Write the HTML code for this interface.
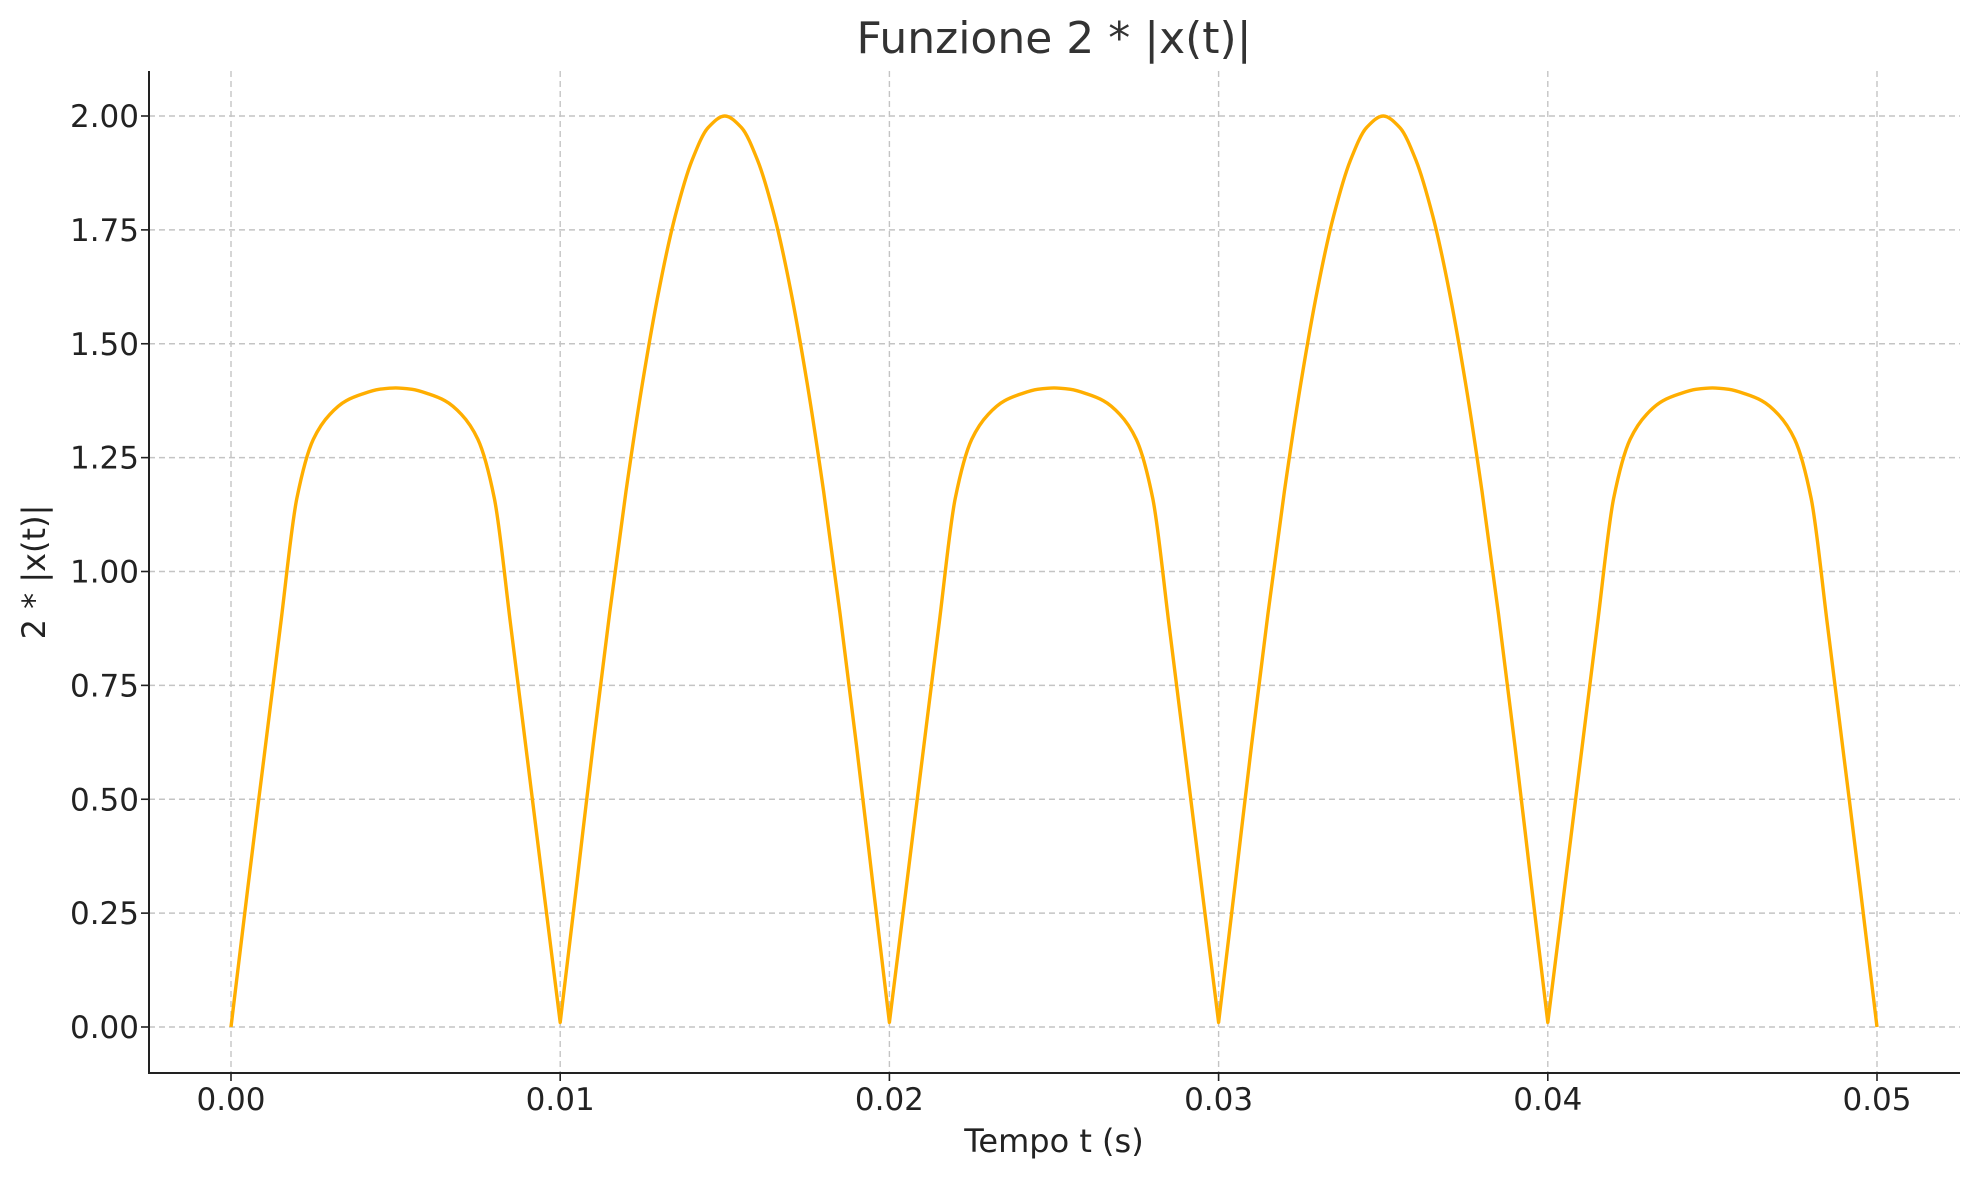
<!DOCTYPE html>
<html><head><meta charset="utf-8"><style>
html,body{margin:0;padding:0;background:#fff;}
svg text{font-family:"DejaVu Sans","Liberation Sans",sans-serif;fill:#222;}
</style></head><body>
<svg id="chart" width="1979" height="1180" viewBox="0 0 1979 1180" xmlns="http://www.w3.org/2000/svg">
<rect width="1979" height="1180" fill="#fff"/>
<g id="grid"></g>
<g id="series"></g>
<g id="axes"></g>
<text x="1054" y="53" font-size="44" text-anchor="middle" style="fill:#333">Funzione 2 * |x(t)|</text>
<text x="1054" y="1152" font-size="32" text-anchor="middle">Tempo t (s)</text>
<text x="0" y="0" font-size="32" text-anchor="middle" transform="translate(45,572) rotate(-90)">2 * |x(t)|</text>
</svg>
<script>
const xTicks=[0,0.01,0.02,0.03,0.04,0.05];
const xTickLabels=["0.00","0.01","0.02","0.03","0.04","0.05"];
const yTicks=[0,0.25,0.5,0.75,1,1.25,1.5,1.75,2];
const yTickLabels=["0.00","0.25","0.50","0.75","1.00","1.25","1.50","1.75","2.00"];
const tStep=0.0005;
const values=[
0,0.30,0.59,0.88,1.16,1.29,1.345,1.375,1.39,1.40,1.403,1.40,1.39,1.375,1.345,1.29,1.16,0.88,0.59,0.30,0.01,
0.313,0.618,0.908,1.176,1.414,1.618,1.782,1.902,1.975,2.0,1.975,1.902,1.782,1.618,1.414,1.176,0.908,0.618,0.313,0.01,
0.30,0.59,0.88,1.16,1.29,1.345,1.375,1.39,1.40,1.403,1.40,1.39,1.375,1.345,1.29,1.16,0.88,0.59,0.30,0.01,
0.313,0.618,0.908,1.176,1.414,1.618,1.782,1.902,1.975,2.0,1.975,1.902,1.782,1.618,1.414,1.176,0.908,0.618,0.313,0.01,
0.30,0.59,0.88,1.16,1.29,1.345,1.375,1.39,1.40,1.403,1.40,1.39,1.375,1.345,1.29,1.16,0.88,0.59,0.30,0
];
const NS="http://www.w3.org/2000/svg";
const L=149,R=1960,T=71,B=1073;
function xs(v){return 231+v*(1877-231)/0.05;}
function ys(v){return 1027-v*(1027-116)/2;}
function mk(tag,parent,attrs){const e=document.createElementNS(NS,tag);for(const k in attrs)e.setAttribute(k,attrs[k]);parent.appendChild(e);return e;}
const grid=document.getElementById('grid'),axes=document.getElementById('axes'),series=document.getElementById('series');
xTicks.forEach((v,i)=>{
 const g=mk('line',grid,{x1:xs(v),x2:xs(v),y1:T,y2:B,stroke:'#c4c4c4','stroke-width':1.4,'stroke-dasharray':'6,4'});
 
 
 const t=mk('line',axes,{x1:xs(v),x2:xs(v),y1:B,y2:B+8,stroke:'#222','stroke-width':1.6});
 
 
 const l=mk('text',axes,{x:xs(v),y:1110,'font-size':31,'text-anchor':'middle'});
 l.textContent=xTickLabels[i];
 
 
});
yTicks.forEach((v,i)=>{
 const g=mk('line',grid,{x1:L,x2:R,y1:ys(v),y2:ys(v),stroke:'#c4c4c4','stroke-width':1.4,'stroke-dasharray':'6,4'});
 
 
 const t=mk('line',axes,{x1:L-8,x2:L,y1:ys(v),y2:ys(v),stroke:'#222','stroke-width':1.6});
 
 
 const l=mk('text',axes,{x:139,y:ys(v)+11,'font-size':31,'text-anchor':'end'});
 l.textContent=yTickLabels[i];
 
 
});
const sl=mk('line',axes,{x1:L,x2:L,y1:T,y2:B+1,stroke:'#222','stroke-width':2});


const sb=mk('line',axes,{x1:L-1,x2:R,y1:B,y2:B,stroke:'#222','stroke-width':2});


// monotone cubic path
const X=values.map((v,i)=>xs(i*tStep)),Y=values.map(v=>ys(v));
const n=X.length,d=[],m=[];
for(let i=0;i<n-1;i++)d.push((Y[i+1]-Y[i])/(X[i+1]-X[i]));
for(let i=0;i<n;i++){
 if(i===0)m.push(d[0]);else if(i===n-1)m.push(d[n-2]);
 else if(d[i-1]*d[i]<=0)m.push(0);
 else m.push(2/(1/d[i-1]+1/d[i]));
}
let p='M'+X[0].toFixed(1)+','+Y[0].toFixed(1);
for(let i=0;i<n-1;i++){
 const h=(X[i+1]-X[i])/3;
 // sharp cusps at zero dips
 let m0=m[i],m1=m[i+1];
 if(values[i]<0.05)m0=d[i];
 if(values[i+1]<0.05)m1=d[i];
 p+=' C'+(X[i]+h).toFixed(1)+','+(Y[i]+m0*h).toFixed(1)+' '+(X[i+1]-h).toFixed(1)+','+(Y[i+1]-m1*h).toFixed(1)+' '+X[i+1].toFixed(1)+','+Y[i+1].toFixed(1);
}
const pl=mk('path',series,{d:p,fill:'none',stroke:'#FFAE00','stroke-width':3.4,'stroke-linejoin':'round'});


</script>
</body></html>
